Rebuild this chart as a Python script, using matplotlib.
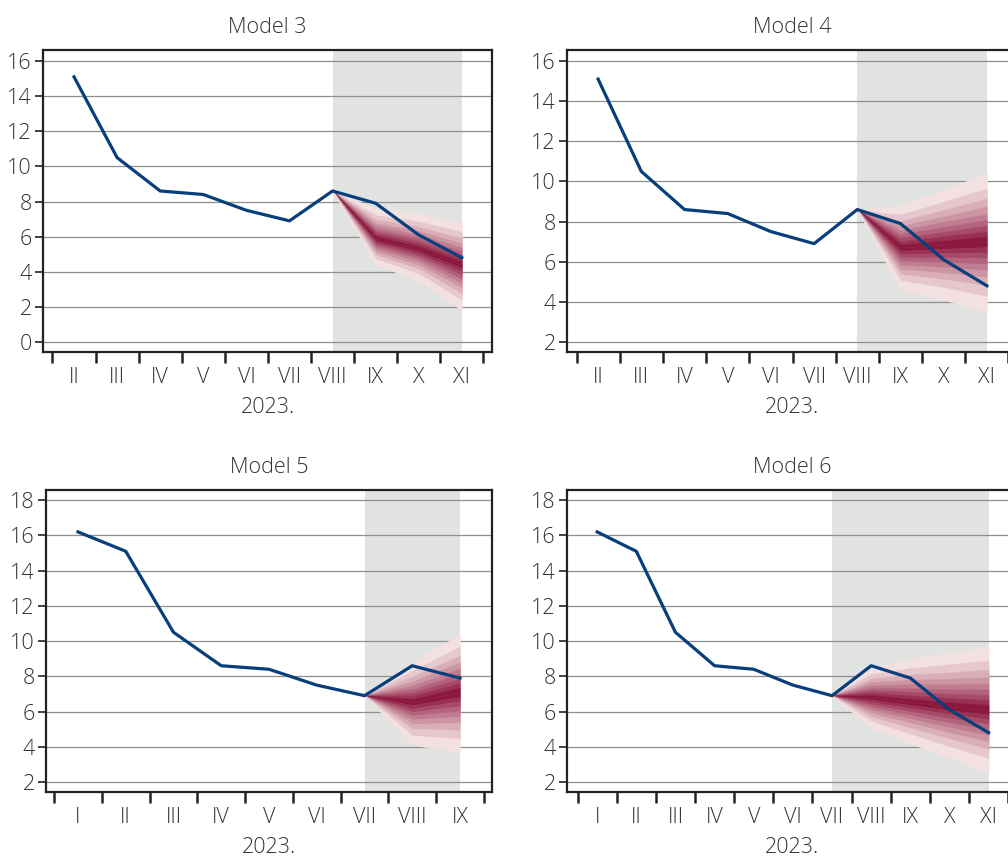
import numpy as np
import matplotlib.pyplot as plt

plt.rcParams['font.family'] = ['Open Sans', 'DejaVu Sans']
plt.rcParams['font.weight'] = 'light'

# month labels
months_34 = ['II', 'III', 'IV', 'V', 'VI', 'VII', 'VIII', 'IX', 'X', 'XI']
months_5 = ['I', 'II', 'III', 'IV', 'V', 'VI', 'VII', 'VIII', 'IX']
months_6 = ['I', 'II', 'III', 'IV', 'V', 'VI', 'VII', 'VIII', 'IX', 'X', 'XI']

# actual values
actual_34 = [15.1, 10.5, 8.6, 8.4, 7.5, 6.9, 8.6, 7.9, 6.1, 4.8]
actual_5 = [16.2, 15.1, 10.5, 8.6, 8.4, 7.5, 6.9, 8.6, 7.9]
actual_6 = [16.2, 15.1, 10.5, 8.6, 8.4, 7.5, 6.9, 8.6, 7.9, 6.1, 4.8]

# fan band edges per forecast month, from the 95% edge down to the 5% edge
m3_fan = [
    [7.60, 7.22, 6.97, 6.77, 6.60, 6.44, 6.30, 6.16, 6.03, 5.90, 5.78, 5.67, 5.55, 5.42, 5.29, 5.13, 4.96, 4.73, 4.40],
    [7.30, 6.86, 6.56, 6.32, 6.12, 5.94, 5.77, 5.61, 5.45, 5.30, 5.16, 5.02, 4.88, 4.73, 4.56, 4.38, 4.17, 3.90, 3.50],
    [6.80, 6.27, 5.91, 5.63, 5.38, 5.17, 4.96, 4.77, 4.58, 4.40, 4.20, 4.00, 3.79, 3.57, 3.33, 3.07, 2.76, 2.37, 1.80],
]
m4_fan = [
    [8.80, 8.34, 8.02, 7.78, 7.56, 7.37, 7.19, 7.02, 6.86, 6.70, 6.54, 6.38, 6.21, 6.03, 5.84, 5.62, 5.38, 5.06, 4.60],
    [9.60, 8.99, 8.58, 8.26, 7.98, 7.73, 7.49, 7.27, 7.06, 6.85, 6.64, 6.43, 6.21, 5.97, 5.72, 5.44, 5.12, 4.71, 4.10],
    [10.40, 9.65, 9.14, 8.74, 8.39, 8.08, 7.80, 7.52, 7.26, 7.00, 6.73, 6.46, 6.18, 5.88, 5.57, 5.21, 4.80, 4.27, 3.50],
]
m5_fan = [
    [8.80, 8.30, 7.97, 7.70, 7.47, 7.27, 7.08, 6.90, 6.72, 6.55, 6.36, 6.17, 5.98, 5.77, 5.55, 5.30, 5.01, 4.64, 4.10],
    [10.40, 9.67, 9.18, 8.79, 8.45, 8.15, 7.87, 7.61, 7.35, 7.10, 6.84, 6.58, 6.30, 6.02, 5.71, 5.36, 4.96, 4.45, 3.70],
]
m6_fan = [
    [8.50, 8.12, 7.87, 7.67, 7.50, 7.34, 7.20, 7.06, 6.93, 6.80, 6.67, 6.53, 6.39, 6.24, 6.08, 5.90, 5.70, 5.44, 5.05],
    [9.00, 8.46, 8.09, 7.80, 7.55, 7.33, 7.12, 6.93, 6.74, 6.55, 6.37, 6.19, 6.00, 5.80, 5.59, 5.35, 5.07, 4.72, 4.20],
    [9.35, 8.68, 8.22, 7.86, 7.55, 7.27, 7.01, 6.77, 6.53, 6.30, 6.07, 5.85, 5.61, 5.36, 5.09, 4.79, 4.44, 4.00, 3.35],
    [9.70, 8.90, 8.37, 7.94, 7.58, 7.25, 6.94, 6.65, 6.38, 6.10, 5.83, 5.55, 5.27, 4.97, 4.64, 4.28, 3.86, 3.33, 2.55],
]

BLUE = '#073e7c'
SHADE = '#e1e3e1'
GRID = '#8f8f8f'
TXT = '#333333'
LIGHT = np.array([243, 224, 226]) / 255
DARK = np.array([140, 24, 62]) / 255
FS = 15.5


def draw_panel(ax, title, months, actual, fan, start, yticks, ylim, xlim):
    n = len(months)
    x = np.arange(n)
    ax.axvspan(start, n - 1, color=SHADE, lw=0, zorder=0)
    for yt in yticks:
        ax.axhline(yt, color=GRID, lw=0.9, zorder=1)

    # fan starts at the last observed value
    fx = np.arange(start, start + len(fan) + 1)
    edges = np.vstack([np.full(len(fan[0]), actual[start]), np.array(fan)]).T
    nb = edges.shape[0] - 1
    half = nb // 2 - 1
    for i in range(nb):
        d = min(i, nb - 1 - i)
        c = LIGHT + (DARK - LIGHT) * d / half
        ax.fill_between(fx, edges[i], edges[i + 1], facecolor=c, edgecolor=c,
                        lw=0.4, zorder=2)

    ax.plot(x, actual, color=BLUE, lw=2.3, zorder=3)

    ax.set_xlim(*xlim)
    ax.set_ylim(*ylim)
    ax.set_yticks(yticks)
    ax.set_xticks(np.arange(-0.5, n), labels=[])
    ax.set_xticks(x, labels=months, minor=True)
    ax.tick_params(axis='x', which='major', length=8, width=1.8, color='#222222')
    ax.tick_params(axis='x', which='minor', length=0, pad=11, labelsize=FS,
                   labelcolor=TXT)
    ax.tick_params(axis='y', length=6, width=1.2, color='#222222', pad=2,
                   labelsize=FS, labelcolor=TXT)
    for s in ax.spines.values():
        s.set_linewidth(1.6)
        s.set_color('#222222')
    ax.set_xlabel('2023.', fontsize=FS, color=TXT, labelpad=6, fontweight='light')
    ax.set_title(title, fontsize=FS, color=TXT, pad=12, fontweight='light')


fig = plt.figure(figsize=(10.08, 8.58), dpi=100)
W, H = 1008, 858

ax3 = fig.add_axes([43 / W, (H - 352) / H, 449 / W, 302 / H])
ax4 = fig.add_axes([567 / W, (H - 352) / H, 451 / W, 302 / H])
ax5 = fig.add_axes([46 / W, (H - 792) / H, 446 / W, 302 / H])
ax6 = fig.add_axes([567 / W, (H - 792) / H, 451 / W, 302 / H])

draw_panel(ax3, 'Model 3', months_34, actual_34, m3_fan, 6,
           list(range(0, 17, 2)), (-0.57, 16.63), (-0.72, 9.7))
draw_panel(ax4, 'Model 4', months_34, actual_34, m4_fan, 6,
           list(range(2, 17, 2)), (1.5, 16.55), (-0.72, 9.72))
draw_panel(ax5, 'Model 5', months_5, actual_5, m5_fan, 6,
           list(range(2, 19, 2)), (1.43, 18.58), (-0.67, 8.67))
draw_panel(ax6, 'Model 6', months_6, actual_6, m6_fan, 6,
           list(range(2, 19, 2)), (1.43, 18.58), (-0.77, 10.75))

fig.savefig('out.png', dpi=100)
